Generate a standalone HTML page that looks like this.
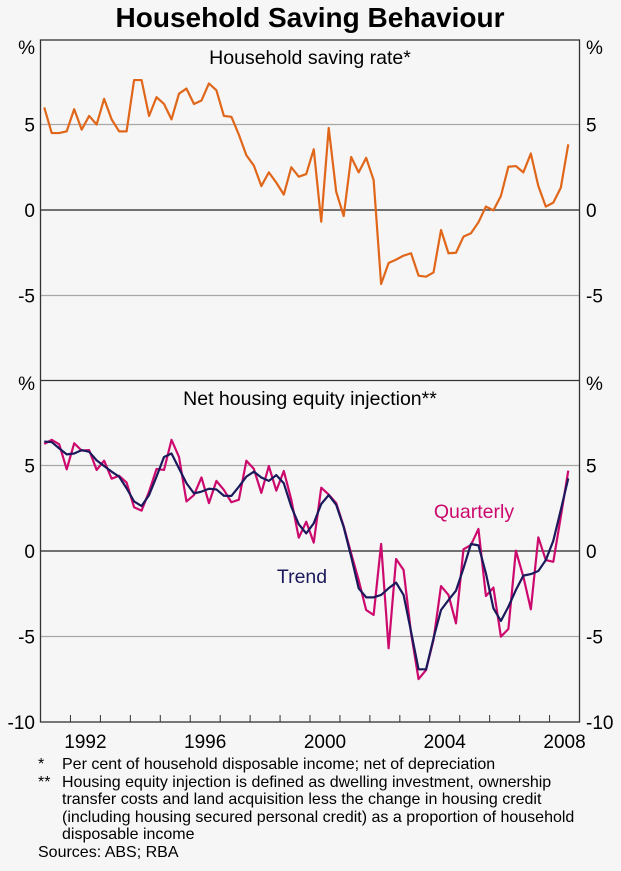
<!DOCTYPE html>
<html><head><meta charset="utf-8"><style>
html,body{margin:0;padding:0;background:#f6f6f6;}
body{width:621px;height:866px;overflow:hidden;font-family:"Liberation Sans",Arial,sans-serif;}
</style></head><body>
<svg id="chart" width="621" height="866" viewBox="0 0 621 866" xmlns="http://www.w3.org/2000/svg" font-family="Liberation Sans, Arial, sans-serif">
<rect x="0" y="0" width="621" height="866" fill="#f6f6f6"/>
<text x="310" y="27" text-anchor="middle" font-size="28" font-weight="bold" fill="#000">Household Saving Behaviour</text>
<g id="grid"></g>
<g id="series"></g>
<g id="axes"></g>
<text x="310" y="64" text-anchor="middle" font-size="19.5" fill="#000">Household saving rate*</text>
<text x="310" y="405" text-anchor="middle" font-size="19.5" fill="#000">Net housing equity injection**</text>
<text x="474" y="518" text-anchor="middle" font-size="19.5" fill="#cc0a6e">Quarterly</text>
<text x="302" y="583" text-anchor="middle" font-size="19.5" fill="#1a1a5c">Trend</text>
<g font-size="16" fill="#000">
<text x="38" y="769">*</text><text x="62" y="769">Per cent of household disposable income; net of depreciation</text>
<text x="38" y="787">**</text><text x="62" y="787">Housing equity injection is defined as dwelling investment, ownership</text>
<text x="62" y="804">transfer costs and land acquisition less the change in housing credit</text>
<text x="62" y="822">(including housing secured personal credit) as a proportion of household</text>
<text x="62" y="839">disposable income</text>
<text x="38" y="857">Sources: ABS; RBA</text>
</g>
</svg>
<script>
const startYear = 1991;
const savingRate = [6.0,4.5,4.5,4.6,5.9,4.7,5.5,5.0,6.5,5.3,4.6,4.6,7.6,7.6,5.5,6.6,6.2,5.3,6.8,7.1,6.2,6.4,7.4,7.0,5.5,5.45,4.4,3.2,2.6,1.4,2.2,1.6,0.9,2.5,1.95,2.1,3.55,-0.68,4.8,1.07,-0.35,3.1,2.2,3.05,1.75,-4.33,-3.1,-2.9,-2.67,-2.53,-3.84,-3.9,-3.65,-1.17,-2.53,-2.5,-1.56,-1.36,-0.72,0.2,-0.02,0.82,2.53,2.57,2.2,3.3,1.4,0.2,0.43,1.3,3.84];
const quarterly = [6.26,6.5,6.24,4.78,6.3,5.87,5.9,4.74,5.28,4.23,4.4,4.0,2.56,2.36,3.47,4.8,4.74,6.5,5.5,2.9,3.27,4.3,2.8,4.1,3.57,2.85,3.0,5.28,4.8,3.4,4.97,3.53,4.68,3.0,0.78,1.71,0.49,3.7,3.3,2.8,1.45,-0.15,-1.7,-3.45,-3.74,0.41,-5.69,-0.47,-1.11,-4.8,-7.49,-6.96,-5.2,-2.05,-2.57,-4.23,0.1,0.35,1.29,-2.63,-2.14,-5.01,-4.56,0.02,-1.5,-3.41,0.8,-0.53,-0.63,2.0,4.7];
const trend = [6.4,6.37,6.0,5.65,5.7,5.9,5.8,5.3,4.97,4.64,4.35,3.67,2.9,2.63,3.27,4.35,5.5,5.7,4.83,3.96,3.37,3.47,3.64,3.6,3.23,3.22,3.76,4.35,4.64,4.3,4.1,4.44,3.96,2.59,1.56,1.03,1.62,2.75,3.27,2.7,1.4,-0.33,-2.18,-2.71,-2.71,-2.57,-2.18,-1.85,-2.57,-4.72,-6.92,-6.92,-5.1,-3.45,-2.87,-2.32,-1.01,0.41,0.33,-1.31,-3.35,-4.09,-3.26,-2.28,-1.44,-1.35,-1.17,-0.53,0.6,2.4,4.25];
const yTicks = [5,0,-5];
const yTicksBottom = [5,0,-5,-10];
const xLabels = [1992,1996,2000,2004,2008];

const NS="http://www.w3.org/2000/svg";
const L=40.5,R=579.5,T=40,B=722;
const x=t=>L+(t-startYear)*(R-L)/18;
const yTop=v=>210-v*17.1;
const yBot=v=>551-v*17.1;
function mk(tag,attrs,parent){const e=document.createElementNS(NS,tag);for(const k in attrs)e.setAttribute(k,attrs[k]);document.getElementById(parent).appendChild(e);return e;}
function qx(i){return x(startYear+(i+0.5)/4);}

[5,-5].forEach(v=>{
 let g=mk('line',{x1:L,x2:R,y1:yTop(v),y2:yTop(v),stroke:'#a8a8a8','stroke-width':1.2},'grid');
 
 
 let h=mk('line',{x1:L,x2:R,y1:yBot(v),y2:yBot(v),stroke:'#a8a8a8','stroke-width':1.2},'grid');
 
 
});
let z1=mk('line',{x1:L,x2:R,y1:yTop(0),y2:yTop(0),stroke:'#222','stroke-width':1.3},'grid');


let z2=mk('line',{x1:L,x2:R,y1:yBot(0),y2:yBot(0),stroke:'#222','stroke-width':1.3},'grid');



function line(arr,yf,color,w,name){
 const pts=arr.map((v,i)=>qx(i).toFixed(2)+','+yf(v).toFixed(2)).join(' ');
 const p=mk('polyline',{points:pts,fill:'none',stroke:color,'stroke-width':w,'stroke-linejoin':'round'},'series');
 
 
}
line(savingRate,yTop,'#e0661a',2.2,'saving-rate-line');
line(quarterly,yBot,'#cc0a6e',2.2,'quarterly-line');
line(trend,yBot,'#1a1a5c',2.2,'trend-line');

let fr=mk('rect',{x:L,y:T,width:R-L,height:B-T,fill:'none',stroke:'#333','stroke-width':1.3},'axes');


let dv=mk('line',{x1:L,x2:R,y1:380.5,y2:380.5,stroke:'#333','stroke-width':1.3},'axes');


for(let yr=startYear+1;yr<2009;yr++){
 let t=mk('line',{x1:x(yr),x2:x(yr),y1:B,y2:B-7,stroke:'#333','stroke-width':1},'axes');
 
 
}
xLabels.forEach(yr=>{
 let t=mk('text',{x:x(yr+0.5),y:748,'text-anchor':'middle','font-size':19,fill:'#000'},'axes');
 t.textContent=yr;
 
 
});
function ylab(v,yy,name){
 let a=mk('text',{x:35,y:yy+7,'text-anchor':'end','font-size':19,fill:'#000'},'axes');
 a.textContent=v;
 
 
 let b=mk('text',{x:586,y:yy+7,'text-anchor':'start','font-size':19,fill:'#000'},'axes');
 b.textContent=v;
 
 
}
yTicks.forEach(v=>ylab(v,yTop(v),'top-y-tick-label'));
yTicksBottom.forEach(v=>ylab(v,yBot(v),'bottom-y-tick-label'));
ylab('%',47,'top-unit-label');
ylab('%',383,'bottom-unit-label');
</script>
</body></html>
